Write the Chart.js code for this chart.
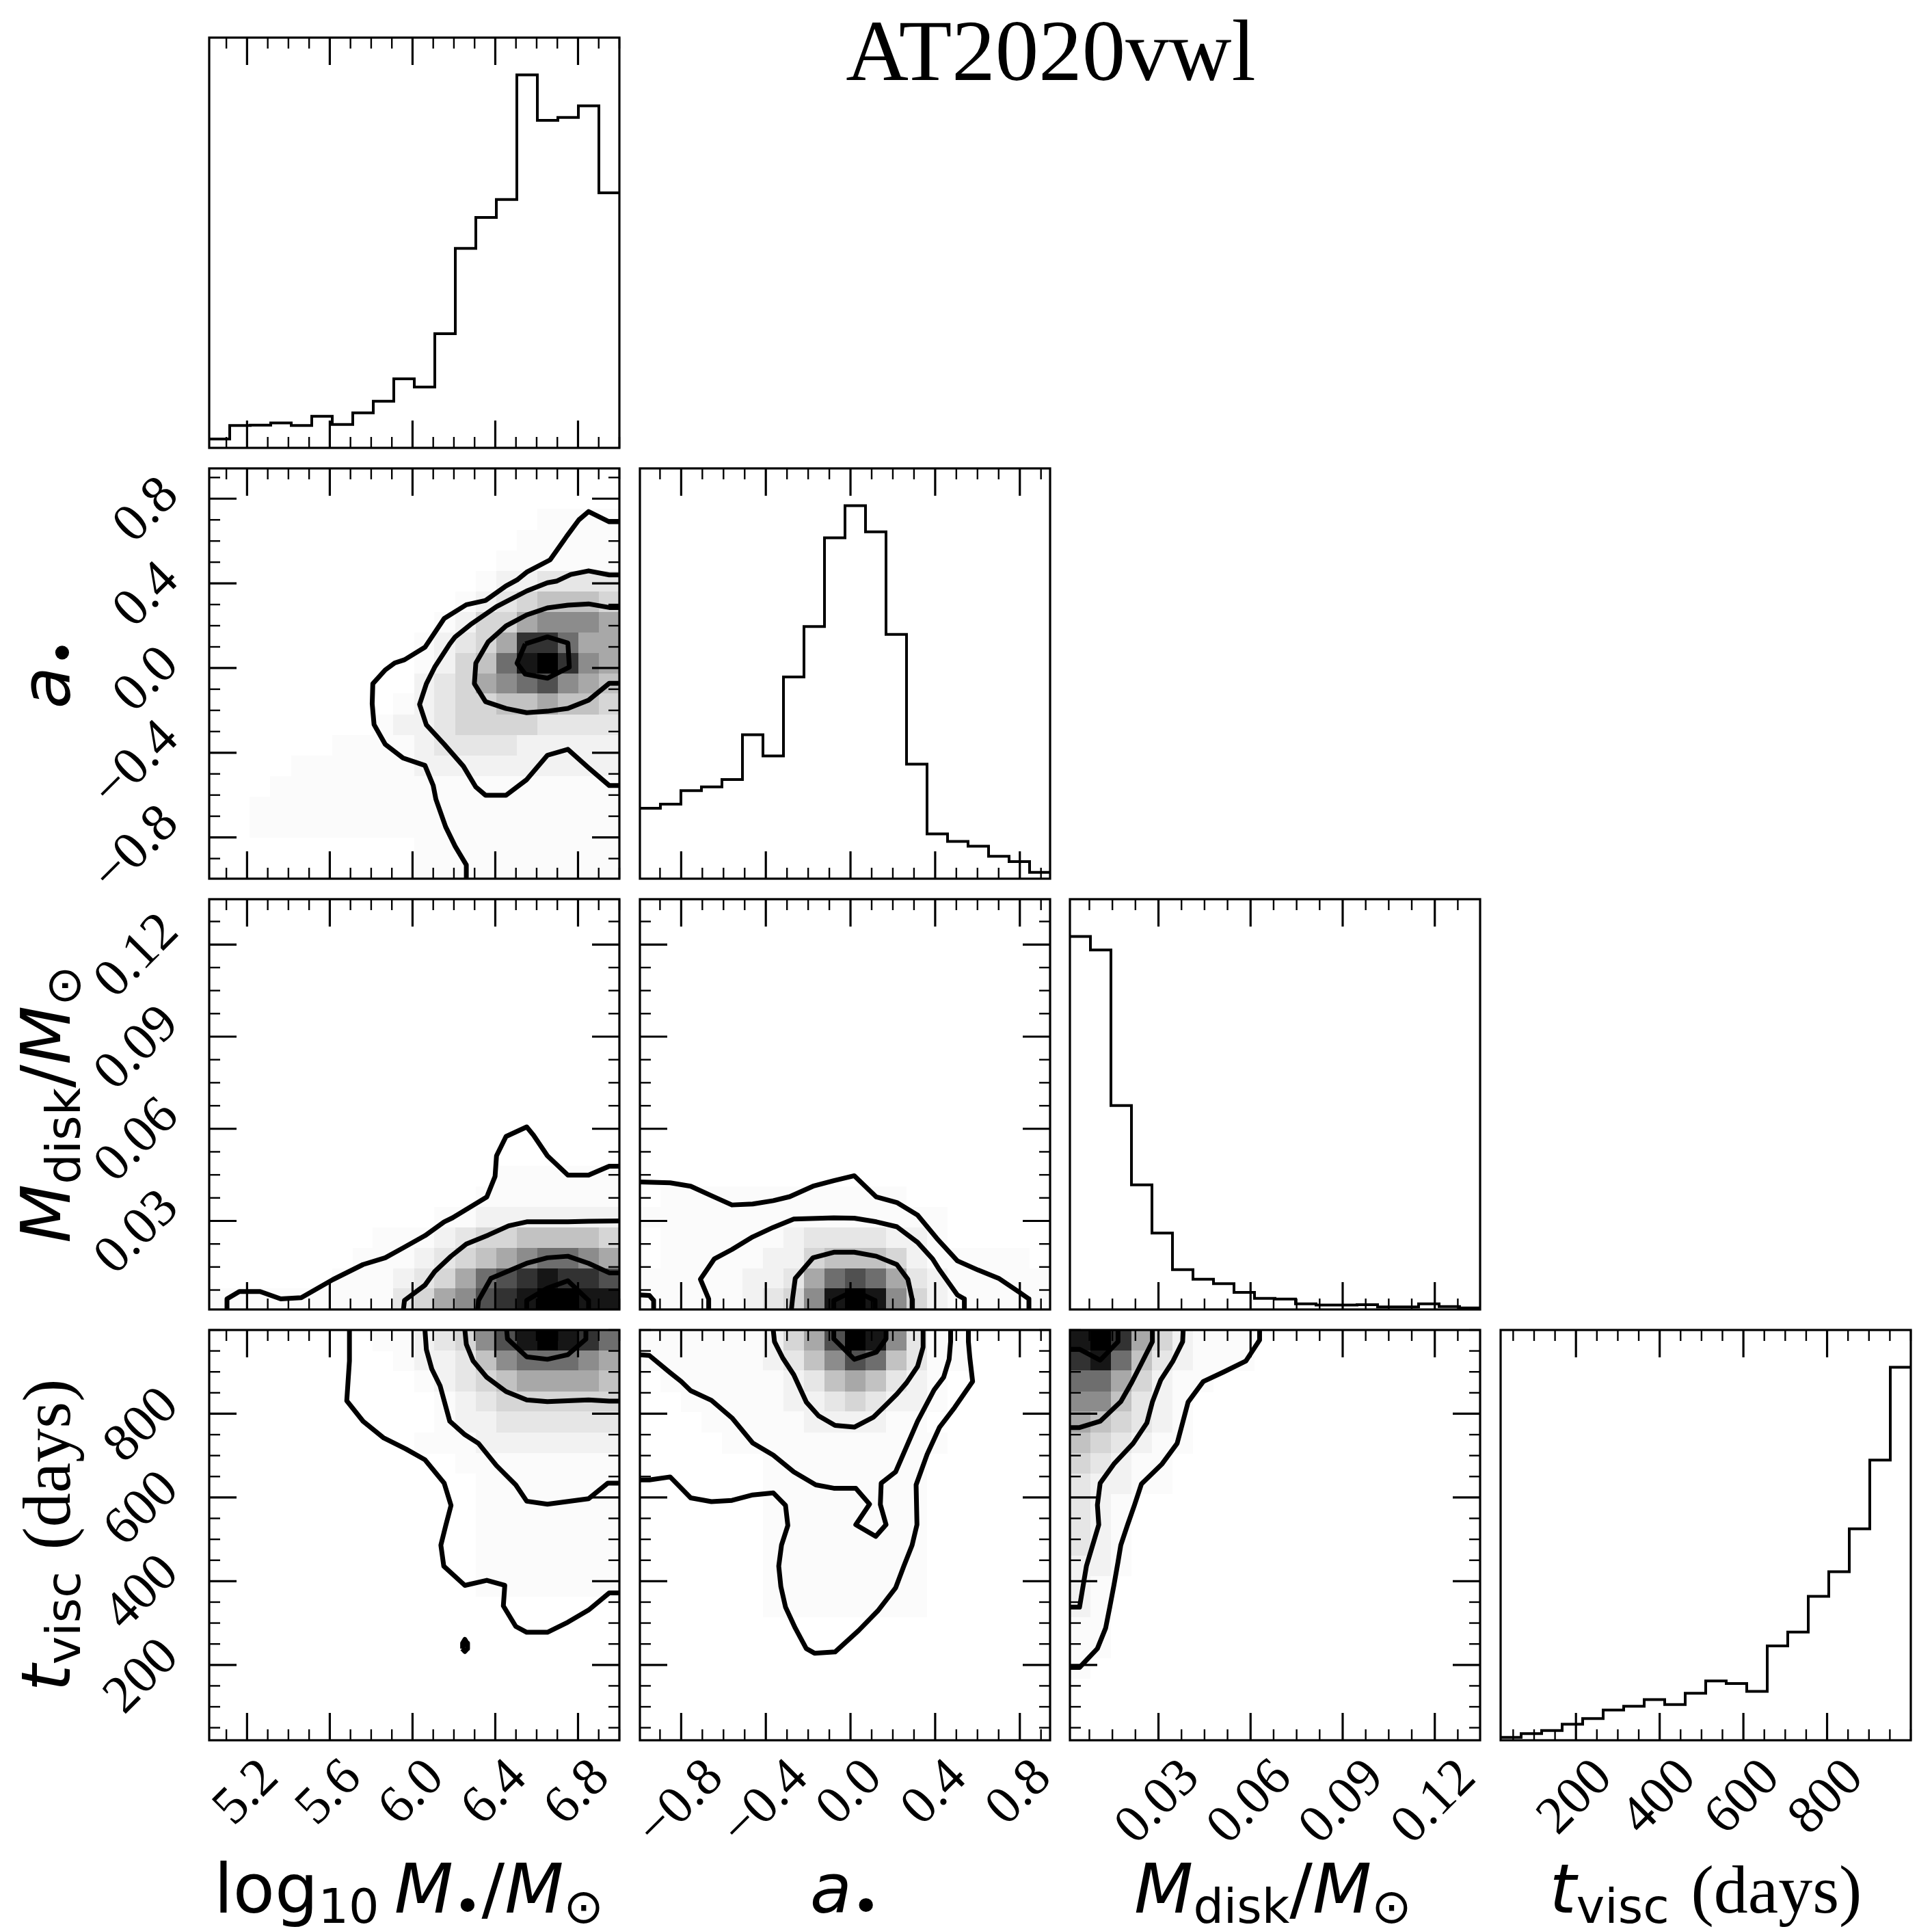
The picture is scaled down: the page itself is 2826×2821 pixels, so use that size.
<!DOCTYPE html>
<html>
<head>
<meta charset="utf-8">
<title>AT2020vwl corner plot</title>
<script src="https://cdn.jsdelivr.net/npm/chart.js@4.4.1/dist/chart.umd.min.js"></script>
<style>
  html, body { margin: 0; padding: 0; background: #fff; }
  body { position: relative; width: 2826px; height: 2821px; overflow: hidden; }
  canvas { position: absolute; }
  .title { position: absolute; left: 1537px; top: 11px; transform: translateX(-50%); font: 127px/1 "Liberation Serif", serif; white-space: nowrap; }
  .xlab, .ylab { position: absolute; font: 100px/1 "DejaVu Sans", sans-serif; white-space: nowrap; color: #000; }
  .xlab { top: 2713px; transform: translateX(-50%); }
  .ylab { left: 68px; transform: translate(-50%, -50%) rotate(-90deg); }
  .xlab i, .ylab i { font-style: oblique; }
  .xlab sub, .ylab sub { font-size: 0.7em; vertical-align: baseline; position: relative; top: 0.22em; }
  .gap { margin-right: 0.32em; }
  .serif { font-family: "Liberation Serif", serif; }
</style>
</head>
<body>
<div class="title">AT2020vwl</div>
<div class="xlab" style="left:598px">log<sub class="gap">10</sub><i>M</i><sub>•</sub>/<i>M</i><sub>⊙</sub></div>
<div class="xlab" style="left:1236px"><i>a</i><sub>•</sub></div>
<div class="xlab" style="left:1862px"><i>M</i><sub>disk</sub>/<i>M</i><sub>⊙</sub></div>
<div class="xlab" style="left:2495px"><i>t</i><sub>visc</sub> <span class="serif">(days)</span></div>
<div class="ylab" style="top:985px"><i>a</i><sub>•</sub></div>
<div class="ylab" style="top:1615px"><i>M</i><sub>disk</sub>/<i>M</i><sub>⊙</sub></div>
<div class="ylab" style="top:2245px"><i>t</i><sub>visc</sub> <span class="serif">(days)</span></div>
<script>
// ---- axis ranges and ticks ----
const rangeLogM = [5.017, 7.0];
const rangeSpin = [-0.995, 0.943];
const rangeMdisk = [0.00116, 0.13476];
const rangeTvisc = [20, 1000];

const majorLogM = [5.2, 5.6, 6.0, 6.4, 6.8];
const labelsLogM = ['5.2', '5.6', '6.0', '6.4', '6.8'];
const majorSpin = [-0.8, -0.4, 0.0, 0.4, 0.8];
const labelsSpin = ['\u22120.8', '\u22120.4', '0.0', '0.4', '0.8'];
const majorMdisk = [0.03, 0.06, 0.09, 0.12];
const labelsMdisk = ['0.03', '0.06', '0.09', '0.12'];
const majorTvisc = [200, 400, 600, 800];
const labelsTvisc = ['200', '400', '600', '800'];

// ---- 1D histograms (20 bins, peak scaled to 1000) ----
const histLogM = [24, 60, 61, 67, 60, 85, 63, 94, 125, 185, 163, 306, 535, 618, 666, 1000, 878, 886, 917, 684];
const histSpin = [189, 200, 236, 246, 266, 386, 329, 541, 676, 914, 1000, 930, 655, 307, 120, 100, 87, 60, 46, 17];
const histMdisk = [1000, 964, 547, 334, 205, 107, 81, 69, 46, 30, 28, 15, 12, 12, 13, 7, 7, 15, 8, 4];
const histTvisc = [8, 18, 26, 43, 58, 81, 91, 109, 96, 126, 159, 152, 131, 253, 290, 386, 452, 567, 751, 1000];

// ---- 2D density, 20x20, rows from top (high y) to bottom, level 0..c ----
const densLogMSpin = [
  '00000000000000000000', '00000000000000000000', '00000000000000001111', '00000000000000011111',
  '00000000000000111111', '00000000000001223333', '00000000000012345554', '00000000000124467776',
  '000000000012346aa866', '000000000012458bca76', '00000000002346789765', '00000000012344556554',
  '00000000122344443333', '00000011112333322222', '00001111112222222222', '00011111111111111111',
  '00111111111111111111', '00111111111111111111', '00000000001111111111', '00000000001111111111'
];
const densLogMMdisk = [
  '00000000000000000000', '00000000000000000000', '00000000000000000000', '00000000000000000000',
  '00000000000000000000', '00000000000000000000', '00000000000000000000', '00000000000000000000',
  '00000000000000000000', '00000000000000000000', '00000000000000000000', '00000000000000000000',
  '00000000000000000000', '00000000000000111111', '00000000000001111111', '00000000000112222222',
  '00000000111234455554', '00000001112345678876', '000000111234689abaa9', '11111111134679abccbb'
];
const densSpinMdisk = [
  '00000000000000000000', '00000000000000000000', '00000000000000000000', '00000000000000000000',
  '00000000000000000000', '00000000000000000000', '00000000000000000000', '00000000000000000000',
  '00000000000000000000', '00000000000000000000', '00000000000000000000', '00000000000000000000',
  '00000000000000000000', '00000000000000000000', '01111111111110000000', '11111111111111100000',
  '01111112333322100000', '01111122455542111110', '11111223689863211111', '111112347bcb74211111'
];
const densLogMTvisc = [
  '000000001123479bcba8', '00000000012235788876', '00000000001234566665', '00000000000123444444',
  '00000000000122333333', '00000000001112222222', '00000000000011111111', '00000000000001111111',
  '00000000000001111111', '00000000000001111111', '00000000000001111111', '00000000000001111111',
  '00000000000001111111', '00000000000000000000', '00000000000000000000', '00000000000000000000',
  '00000000000000000000', '00000000000000000000', '00000000000000000000', '00000000000000000000'
];
const densSpinTvisc = [
  '1111112469cb73110000', '11111123579853110000', '01111112356532100000', '00111112234322100000',
  '00011111222211000000', '00001111111111100000', '00000011111111000000', '00000011111111000000',
  '00000011111111000000', '00000011111111000000', '00000011111111000000', '00000011111111000000',
  '00000011111111000000', '00000011111111000000', '00000000000000000000', '00000000000000000000',
  '00000000000000000000', '00000000000000000000', '00000000000000000000', '00000000000000000000'
];
const densMdiskTvisc = [
  'bca64211100000000000', 'ab853211100000000000', '88642110000000000000', '77532100000000000000',
  '65432100000000000000', '54321100000000000000', '43211000000000000000', '32211000000000000000',
  '32100000000000000000', '32100000000000000000', '32100000000000000000', '22100000000000000000',
  '21000000000000000000', '21000000000000000000', '11000000000000000000', '11000000000000000000',
  '10000000000000000000', '00000000000000000000', '00000000000000000000', '00000000000000000000'
];

// ---- contour lines [x, y] ----
const cLogMSpin = [
  [[7.0,0.691],[6.951,0.691],[6.851,0.739],[6.804,0.700],[6.745,0.622],[6.731,0.602],[6.665,0.511],[6.552,0.453],[6.505,0.416],[6.452,0.388],[6.353,0.319],[6.260,0.299],[6.153,0.234],[6.060,0.098],[5.961,0.039],[5.914,0.024],[5.868,-0.009],[5.808,-0.074],[5.805,-0.169],[5.814,-0.267],[5.868,-0.360],[5.954,-0.425],[6.060,-0.460],[6.100,-0.555],[6.113,-0.620],[6.160,-0.750],[6.206,-0.842],[6.260,-0.930],[6.260,-1.0]],
  [[7.0,0.440],[6.951,0.440],[6.851,0.459],[6.765,0.442],[6.698,0.411],[6.652,0.403],[6.552,0.364],[6.406,0.290],[6.280,0.205],[6.206,0.147],[6.180,0.114],[6.107,0.004],[6.067,-0.074],[6.034,-0.172],[6.067,-0.269],[6.153,-0.360],[6.246,-0.464],[6.306,-0.562],[6.353,-0.601],[6.452,-0.601],[6.552,-0.527],[6.652,-0.412],[6.751,-0.384],[6.851,-0.471],[6.951,-0.555],[7.0,-0.555]],
  [[7.0,0.286],[6.951,0.286],[6.851,0.303],[6.751,0.297],[6.652,0.284],[6.552,0.251],[6.452,0.199],[6.366,0.124],[6.306,0.023],[6.299,-0.074],[6.353,-0.159],[6.452,-0.191],[6.552,-0.211],[6.652,-0.204],[6.751,-0.191],[6.851,-0.152],[6.951,-0.072],[7.0,-0.072]],
  [[6.545,0.114],[6.505,0.023],[6.545,-0.029],[6.652,-0.048],[6.758,0.004],[6.751,0.118],[6.652,0.147],[6.545,0.114]]
];
const cLogMMdisk = [
  [[5.103,0.0],[5.103,0.0046],[5.163,0.0070],[5.263,0.0070],[5.363,0.0046],[5.462,0.0050],[5.615,0.0109],[5.761,0.0158],[5.868,0.0180],[5.954,0.0212],[6.060,0.0252],[6.153,0.0297],[6.193,0.0310],[6.359,0.0378],[6.399,0.0445],[6.406,0.0512],[6.452,0.0575],[6.552,0.0606],[6.585,0.0579],[6.652,0.0512],[6.751,0.0449],[6.851,0.0449],[6.951,0.0478],[7.0,0.0478]],
  [[5.954,0.0],[5.961,0.0041],[6.060,0.0091],[6.107,0.0135],[6.186,0.0185],[6.260,0.0225],[6.366,0.0254],[6.465,0.0284],[6.552,0.0297],[6.652,0.0297],[6.751,0.0297],[6.851,0.0299],[7.0,0.0300]],
  [[6.313,0.0],[6.319,0.0041],[6.379,0.0113],[6.552,0.0162],[6.652,0.0180],[6.751,0.0185],[6.851,0.0162],[6.951,0.0131],[7.0,0.0131]],
  [[6.552,0.0],[6.552,0.0041],[6.652,0.0081],[6.751,0.0105],[6.851,0.0041],[6.851,0.0]]
];
const cSpinMdisk = [
  [[-0.995,0.0427],[-0.852,0.0424],[-0.755,0.0413],[-0.657,0.0382],[-0.560,0.0352],[-0.462,0.0355],[-0.365,0.0366],[-0.287,0.0379],[-0.177,0.0413],[-0.079,0.0431],[0.018,0.0447],[0.122,0.0378],[0.219,0.0360],[0.317,0.0319],[0.408,0.0243],[0.505,0.0170],[0.603,0.0140],[0.700,0.0113],[0.797,0.0068],[0.843,0.0046],[0.843,0.0]],
  [[-0.995,0.0059],[-0.950,0.0057],[-0.930,0.0041],[-0.930,0.0]],
  [[-0.670,0.0],[-0.670,0.0046],[-0.709,0.0110],[-0.644,0.0176],[-0.560,0.0207],[-0.462,0.0248],[-0.365,0.0279],[-0.268,0.0306],[-0.079,0.0310],[0.018,0.0309],[0.122,0.0297],[0.219,0.0281],[0.317,0.0230],[0.388,0.0176],[0.421,0.0140],[0.505,0.0059],[0.538,0.0046],[0.538,0.0]],
  [[-0.281,0.0],[-0.274,0.0046],[-0.261,0.0113],[-0.177,0.0180],[-0.079,0.0198],[0.018,0.0198],[0.122,0.0185],[0.219,0.0158],[0.271,0.0110],[0.291,0.0046],[0.291,0.0]],
  [[-0.079,0.0],[-0.079,0.0041],[0.018,0.0073],[0.116,0.0041],[0.116,0.0]]
];
const cLogMTvisc = [
  [[5.695,1000],[5.695,926],[5.682,831],[5.761,782],[5.861,742],[5.967,716],[6.060,690],[6.153,634],[6.186,581],[6.160,532],[6.137,486],[6.151,436],[6.253,390],[6.359,402],[6.446,390],[6.439,341],[6.499,292],[6.552,278],[6.652,278],[6.751,302],[6.851,331],[6.951,372],[7.0,372]],
  [[6.240,239],[6.242,252],[6.253,261],[6.264,252],[6.266,239],[6.253,232],[6.240,239]],
  [[6.060,1000],[6.067,953],[6.093,907],[6.133,867],[6.180,782],[6.253,750],[6.319,729],[6.406,676],[6.499,630],[6.552,591],[6.652,584],[6.851,597],[6.944,634],[7.0,634]],
  [[6.253,1000],[6.260,966],[6.293,926],[6.359,887],[6.452,853],[6.552,833],[6.652,829],[6.751,831],[6.851,833],[6.951,830],[7.0,830]],
  [[6.455,1000],[6.459,979],[6.552,936],[6.652,930],[6.751,941],[6.838,978],[6.838,1000]]
];
const cSpinTvisc = [
  [[-0.995,642],[-0.950,642],[-0.852,649],[-0.755,599],[-0.657,590],[-0.560,593],[-0.462,606],[-0.365,611],[-0.307,581],[-0.296,533],[-0.326,486],[-0.339,436],[-0.329,387],[-0.307,338],[-0.261,288],[-0.209,239],[-0.170,228],[-0.073,231],[0.038,282],[0.129,329],[0.213,384],[0.252,436],[0.291,486],[0.314,535],[0.310,630],[0.362,703],[0.421,768],[0.492,815],[0.577,877],[0.564,933],[0.557,972],[0.557,1000]],
  [[-0.995,941],[-0.950,939],[-0.852,898],[-0.800,877],[-0.755,855],[-0.657,832],[-0.560,790],[-0.462,730],[-0.365,701],[-0.268,661],[-0.164,630],[-0.079,622],[0.025,622],[0.090,584],[0.025,535],[0.119,507],[0.168,535],[0.141,583],[0.145,634],[0.213,661],[0.317,782],[0.395,857],[0.440,887],[0.466,930],[0.473,972],[0.473,1000]],
  [[-0.365,1000],[-0.359,972],[-0.320,933],[-0.268,893],[-0.209,828],[-0.151,795],[-0.073,772],[0.018,768],[0.109,792],[0.168,821],[0.219,847],[0.265,874],[0.317,913],[0.343,959],[0.343,1000]],
  [[-0.079,1000],[-0.079,979],[0.018,930],[0.122,947],[0.168,979],[0.168,1000]]
];
const cMdiskTvisc = [
  [[0.00116,194],[0.00429,194],[0.01011,239],[0.01280,288],[0.01414,338],[0.01549,390],[0.01683,446],[0.01773,486],[0.01996,535],[0.02220,582],[0.02444,632],[0.03116,680],[0.03608,729],[0.03966,828],[0.04459,877],[0.05130,900],[0.05847,926],[0.06294,976],[0.06294,1000]],
  [[0.00116,338],[0.00429,338],[0.00653,436],[0.01056,535],[0.01011,582],[0.01101,634],[0.01549,680],[0.02175,729],[0.02623,778],[0.02802,828],[0.03071,880],[0.03474,926],[0.03787,972],[0.03805,1000]],
  [[0.00116,767],[0.00429,767],[0.01101,782],[0.01773,829],[0.02131,875],[0.02444,920],[0.02802,972],[0.02802,1000]],
  [[0.00116,954],[0.00429,954],[0.01101,928],[0.01683,972],[0.01683,1000]]
];

// ---- styling / layout ----
const shades = ['#ffffff','#fbfbfb','#f2f2f2','#e6e6e6','#d6d6d6','#c2c2c2','#a8a8a8','#8c8c8c','#6e6e6e','#505050','#323232','#161616','#000000'];
const colLeft = [306, 936, 1565, 2195];
const rowTop = [55, 685, 1315, 1945];
const SIZE = 600;
const PAD = { left: 250, right: 10, top: 10, bottom: 190 };
const FONT_PX = 78;

const axes = [
  { range: rangeLogM, major: majorLogM, labels: labelsLogM, step: 0.1 },
  { range: rangeSpin, major: majorSpin, labels: labelsSpin, step: 0.1 },
  { range: rangeMdisk, major: majorMdisk, labels: labelsMdisk, step: 0.0075 },
  { range: rangeTvisc, major: majorTvisc, labels: labelsTvisc, step: 50 }
];
const hists = [histLogM, histSpin, histMdisk, histTvisc];
const pairs = [
  { col: 0, row: 1, dens: densLogMSpin, lines: cLogMSpin },
  { col: 0, row: 2, dens: densLogMMdisk, lines: cLogMMdisk },
  { col: 1, row: 2, dens: densSpinMdisk, lines: cSpinMdisk },
  { col: 0, row: 3, dens: densLogMTvisc, lines: cLogMTvisc },
  { col: 1, row: 3, dens: densSpinTvisc, lines: cSpinTvisc },
  { col: 2, row: 3, dens: densMdiskTvisc, lines: cMdiskTvisc }
];

function minorTicks(ax) {
  const out = [];
  const k0 = Math.ceil(ax.range[0] / ax.step - 1e-9), k1 = Math.floor(ax.range[1] / ax.step + 1e-9);
  for (let k = k0; k <= k1; k++) {
    const v = k * ax.step;
    if (!ax.major.some(m => Math.abs(m - v) < ax.step * 0.01)) out.push(v);
  }
  return out;
}

function heatPlugin(grid, xr, yr) {
  return {
    id: 'heat',
    beforeDatasetsDraw(chart) {
      if (!grid) return;
      const { ctx, chartArea: a } = chart;
      const sx = chart.scales.x, sy = chart.scales.y;
      const ny = grid.length, nx = grid[0].length;
      ctx.save();
      ctx.beginPath();
      ctx.rect(a.left, a.top, a.right - a.left, a.bottom - a.top);
      ctx.clip();
      grid.forEach((row, j) => {
        for (let i = 0; i < nx; i++) {
          const lv = parseInt(row[i], 16);
          if (!lv) continue;
          const xa = sx.getPixelForValue(xr[0] + (xr[1] - xr[0]) * i / nx);
          const xb = sx.getPixelForValue(xr[0] + (xr[1] - xr[0]) * (i + 1) / nx);
          const ya = sy.getPixelForValue(yr[1] - (yr[1] - yr[0]) * j / ny);
          const yb = sy.getPixelForValue(yr[1] - (yr[1] - yr[0]) * (j + 1) / ny);
          ctx.fillStyle = shades[lv];
          ctx.fillRect(Math.floor(xa), Math.floor(ya), Math.ceil(xb) - Math.floor(xa), Math.ceil(yb) - Math.floor(ya));
        }
      });
      ctx.restore();
    }
  };
}

function framePlugin(xa, ya, showX, showY) {
  return {
    id: 'frame',
    afterDraw(chart) {
      const { ctx, chartArea: a } = chart;
      const sx = chart.scales.x, sy = chart.scales.y;
      const seg = (x0, y0, x1, y1) => { ctx.beginPath(); ctx.moveTo(x0, y0); ctx.lineTo(x1, y1); ctx.stroke(); };
      ctx.save();
      ctx.strokeStyle = '#000';
      ctx.fillStyle = '#000';
      ctx.lineCap = 'butt';
      [[minorTicks(xa), 16, 2.4], [xa.major, 40, 3.2]].forEach(([vals, len, w]) => {
        ctx.lineWidth = w;
        vals.forEach(v => {
          const p = sx.getPixelForValue(v);
          seg(p, a.bottom, p, a.bottom - len);
          seg(p, a.top, p, a.top + len);
        });
      });
      if (ya) {
        [[minorTicks(ya), 16, 2.4], [ya.major, 40, 3.2]].forEach(([vals, len, w]) => {
          ctx.lineWidth = w;
          vals.forEach(v => {
            const p = sy.getPixelForValue(v);
            seg(a.left, p, a.left + len, p);
            seg(a.right, p, a.right - len, p);
          });
        });
      }
      ctx.lineWidth = 3.2;
      ctx.strokeRect(a.left, a.top, a.right - a.left, a.bottom - a.top);

      ctx.font = FONT_PX + 'px "Liberation Serif"';
      ctx.textAlign = 'center';
      ctx.textBaseline = 'middle';
      const rot = (t, cx, cy) => {
        ctx.save(); ctx.translate(cx, cy); ctx.rotate(-Math.PI / 4); ctx.fillText(t, 0, 0); ctx.restore();
      };
      const half = t => (ctx.measureText(t).width + FONT_PX * 0.7) / (2 * Math.SQRT2);
      if (showX) {
        xa.major.forEach((v, i) => {
          const t = xa.labels[i];
          rot(t, sx.getPixelForValue(v), a.bottom + 24 + half(t));
        });
      }
      if (showY && ya) {
        ya.major.forEach((v, i) => {
          const t = ya.labels[i];
          rot(t, a.left - 37 - half(t), sy.getPixelForValue(v) + 18);
        });
      }
      ctx.restore();
    }
  };
}

function makePanel(col, row, datasets, xa, yRange, ya, grid) {
  const cv = document.createElement('canvas');
  const w = SIZE + PAD.left + PAD.right, h = SIZE + PAD.top + PAD.bottom;
  cv.width = w; cv.height = h;
  cv.style.left = (colLeft[col] - PAD.left) + 'px';
  cv.style.top = (rowTop[row] - PAD.top) + 'px';
  cv.style.width = w + 'px'; cv.style.height = h + 'px';
  document.body.appendChild(cv);
  new Chart(cv, {
    type: 'scatter',
    data: { datasets },
    options: {
      responsive: false,
      animation: false,
      devicePixelRatio: 1,
      layout: { padding: PAD },
      elements: { point: { radius: 0 } },
      scales: {
        x: { type: 'linear', display: false, bounds: 'data', min: xa.range[0], max: xa.range[1] },
        y: { type: 'linear', display: false, bounds: 'data', min: yRange[0], max: yRange[1] }
      },
      plugins: { legend: { display: false }, tooltip: { enabled: false } }
    },
    plugins: [heatPlugin(grid, xa.range, yRange), framePlugin(xa, ya, row === 3, col === 0 && row > 0)]
  });
}

// diagonal histograms
hists.forEach((h, k) => {
  const ax = axes[k];
  const n = h.length;
  const pts = h.map((v, i) => ({ x: ax.range[0] + (ax.range[1] - ax.range[0]) * i / n, y: v }));
  pts.push({ x: ax.range[1], y: h[n - 1] });
  makePanel(k, k, [{
    data: pts, showLine: true, stepped: 'before', borderColor: '#000', borderWidth: 4,
    pointRadius: 0, clip: 0, borderJoinStyle: 'miter'
  }], ax, [0, 1100], null, null);
});

// 2D panels
pairs.forEach(p => {
  const xa = axes[p.col], ya = axes[p.row];
  const ds = p.lines.map(line => ({
    data: line.map(([x, y]) => ({ x, y })), showLine: true, borderColor: '#000', borderWidth: 7,
    pointRadius: 0, tension: 0, clip: 0, borderJoinStyle: 'round', borderCapStyle: 'butt'
  }));
  makePanel(p.col, p.row, ds, xa, ya.range, ya, p.dens);
});
</script>
</body>
</html>
